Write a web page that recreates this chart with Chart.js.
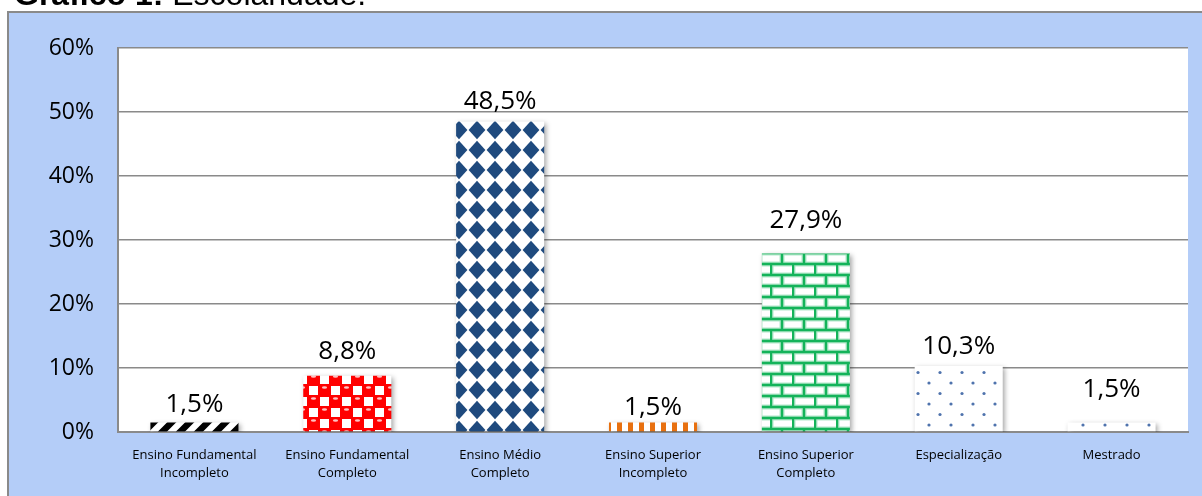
<!DOCTYPE html>
<html><head><meta charset="utf-8">
<script src="https://cdn.jsdelivr.net/npm/chart.js@4"></script>
<style>
html,body{margin:0;padding:0;background:#fff;}
#wrap{position:relative;width:1202px;height:496px;overflow:hidden;}
#title{position:absolute;left:14px;top:-22px;font:32px/32px "Liberation Sans",Arial,sans-serif;color:#000;white-space:nowrap;z-index:2;}
canvas{position:absolute;left:0;top:0;}
</style></head><body>
<div id="wrap"><canvas id="c" width="1202" height="496"></canvas><div id="title"><b>Gráfico 1:</b> Escolaridade.</div></div>
<script>
// ---- data ----
const categories = [
  ["Ensino Fundamental","Incompleto"],
  ["Ensino Fundamental","Completo"],
  ["Ensino Médio","Completo"],
  ["Ensino Superior","Incompleto"],
  ["Ensino Superior","Completo"],
  ["Especialização"],
  ["Mestrado"]
];
const values = [1.5, 8.8, 48.5, 1.5, 27.9, 10.3, 1.5];
const yTickValues = [0, 10, 20, 30, 40, 50, 60];

// ---- patterns ----
function pat(w, h, draw){
  const c = document.createElement('canvas'); c.width = w; c.height = h;
  const g = c.getContext('2d'); draw(g, w, h);
  return g.createPattern(c, 'repeat');
}
const pStripes = pat(18, 18, (g, s) => {
  g.fillStyle = '#fff'; g.fillRect(0, 0, s, s);
  g.strokeStyle = '#000'; g.lineWidth = 6.5; g.beginPath();
  for (const c of [0, s, 2*s]) { g.moveTo(c + 2, -2); g.lineTo(c - s - 2, s + 2); }
  g.stroke();
});
const pRed = pat(22, 22, (g) => {
  g.fillStyle = '#ff0000'; g.fillRect(0, 0, 22, 22);
  g.fillStyle = '#fff'; g.fillRect(12, 1, 9, 9); g.fillRect(1, 12, 9, 9);
  g.fillStyle = '#f00';
  for (const [x, y] of [[5.5,5.5],[16.5,16.5],[-5.5,16.5],[16.5,-5.5],[27.5,16.5],[16.5,27.5],[5.5,27.5],[27.5,5.5],[-5.5,5.5],[5.5,-5.5]]) {
    g.beginPath(); g.arc(x, y, 5.9, 0, Math.PI*2); g.fill();
  }
  g.fillStyle = 'rgba(255,205,205,0.95)';
  for (const [x, y] of [[5.5,5.5],[16.5,16.5]]) { g.beginPath(); g.ellipse(x, y - 3, 2.6, 1.2, 0, 0, Math.PI*2); g.fill(); }
});
const pDiamond = pat(18, 20, (g) => {
  g.fillStyle = '#fff'; g.fillRect(0, 0, 18, 20);
  g.fillStyle = '#1f4a7e';
  g.beginPath(); g.moveTo(9, 0.8); g.lineTo(17.4, 10); g.lineTo(9, 19.2); g.lineTo(0.6, 10); g.closePath(); g.fill();
});
const pOrange = pat(11, 10, (g) => {
  g.fillStyle = '#fff'; g.fillRect(0, 0, 11, 10);
  g.fillStyle = '#e8700f'; g.fillRect(1, 0, 5, 10);
});
const pBrick = pat(22, 22, (g) => {
  g.fillStyle = '#fff'; g.fillRect(0, 0, 22, 22);
  const lines = (w, col) => {
    g.strokeStyle = col; g.lineWidth = w; g.beginPath();
    for (const y of [0, 11, 22]) { g.moveTo(0, y); g.lineTo(22, y); }
    g.moveTo(1, 0); g.lineTo(1, 11);
    g.moveTo(12, 11); g.lineTo(12, 22);
    g.stroke();
  };
  lines(5, 'rgba(0,176,80,0.3)');
  lines(2.4, '#14b35a');
});
const pDots = pat(22, 21, (g) => {
  g.fillStyle = '#fff'; g.fillRect(0, 0, 22, 21);
  g.fillStyle = '#4f73ad';
  for (const [x, y] of [[5, 5], [16, 15.5]]) { g.beginPath(); g.arc(x, y, 1.6, 0, Math.PI*2); g.fill(); }
});
const barFills = [pStripes, pRed, pDiamond, pOrange, pBrick, pDots, pDots];

// ---- plugins ----
const bgPlugin = {
  id: 'bg',
  beforeDraw(chart) {
    const ctx = chart.ctx, a = chart.chartArea;
    ctx.save();
    ctx.fillStyle = '#fff'; ctx.fillRect(0, 0, chart.width, chart.height);
    ctx.fillStyle = '#b4cdf8'; ctx.fillRect(8, 12, chart.width - 8, chart.height - 12);
    ctx.strokeStyle = '#8a8a8a'; ctx.lineWidth = 2;
    ctx.beginPath(); ctx.moveTo(8, chart.height); ctx.lineTo(8, 12); ctx.lineTo(chart.width, 12); ctx.stroke();
    ctx.fillStyle = '#fff'; ctx.fillRect(a.left, a.top, a.right - a.left, a.bottom - a.top);
    ctx.restore();
  }
};
const shadowPlugin = {
  id: 'shadow',
  beforeDatasetsDraw(chart) {
    const ctx = chart.ctx; ctx.save();
    ctx.shadowColor = 'rgba(0,0,0,0.35)'; ctx.shadowBlur = 5; ctx.shadowOffsetX = 2; ctx.shadowOffsetY = 2;
  },
  afterDatasetsDraw(chart) { chart.ctx.restore(); }
};
const labelOffsets = [18, 24, 20, 15, 33, 19, 33];
const labelPlugin = {
  id: 'vlabels',
  afterDatasetsDraw(chart) {
    const ctx = chart.ctx, meta = chart.getDatasetMeta(0);
    ctx.save();
    ctx.font = '26px "Open Sans", sans-serif'; ctx.fillStyle = '#000';
    ctx.textAlign = 'center'; ctx.textBaseline = 'middle';
    meta.data.forEach((bar, i) => {
      const txt = values[i].toFixed(1).replace('.', ',') + '%';
      ctx.fillText(txt, bar.x, bar.y - labelOffsets[i]);
    });
    ctx.restore();
  }
};

new Chart(document.getElementById('c'), {
  type: 'bar',
  data: {
    labels: categories,
    datasets: [{ data: values, backgroundColor: barFills, borderWidth: 0,
      categoryPercentage: 1, barPercentage: 0.576 }]
  },
  options: {
    responsive: false, animation: false, devicePixelRatio: 1,
    layout: { padding: { top: 48, right: 14, left: 0, bottom: 0 } },
    plugins: { legend: { display: false }, tooltip: { enabled: false }, title: { display: false } },
    scales: {
      x: {
        grid: { display: false, drawTicks: false },
        border: { display: true, color: '#8a8a8a', width: 2 },
        ticks: { color: '#000', padding: 14, maxRotation: 0, autoSkip: false,
          font: { family: '"Open Sans", sans-serif', size: 13, lineHeight: 1.4 } },
        afterFit(s) { s.height = 64; }
      },
      y: {
        min: 0, max: 60,
        afterBuildTicks(s) { s.ticks = yTickValues.map(v => ({ value: v })); },
        grid: { color: '#8a8a8a', lineWidth: 1.5, drawTicks: false },
        border: { display: true, color: '#8a8a8a', width: 2 },
        ticks: { color: '#000', padding: 24, callback: v => v + '%',
          font: { family: '"Open Sans", sans-serif', size: 23 } },
        afterFit(s) { s.width = 118; }
      }
    }
  },
  plugins: [bgPlugin, shadowPlugin, labelPlugin]
});
</script>
</body></html>
